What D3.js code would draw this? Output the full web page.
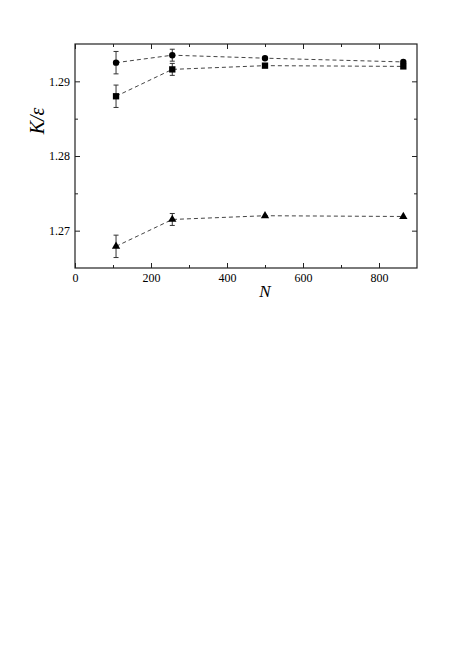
<!DOCTYPE html>
<html>
<head>
<meta charset="utf-8">
<script src="https://cdn.jsdelivr.net/npm/d3@7"></script>
<style>
  body { margin: 0; background: #fff; }
  svg { display: block; }
  text { font-family: "Liberation Serif", "DejaVu Serif", serif; }
</style>
</head>
<body>
<div id="chart"></div>
<script>
// system sizes N
const sizes = [108, 256, 500, 864];

// K/eps for each series (circles, squares, triangles)
const circleVals = [1.2925, 1.2935, 1.2931, 1.2926];
const circleErr = [0.0015, 0.0008, 0, 0];
const squareVals = [1.2880, 1.2916, 1.2921, 1.2920];
const squareErr = [0.0015, 0.0008, 0, 0];
const triangleVals = [1.2679, 1.2715, 1.2720, 1.2719];
const triangleErr = [0.0015, 0.0008, 0, 0];

const xTicks = [0, 200, 400, 600, 800];
const xMinor = [100, 300, 500, 700];
const yTicks = [1.27, 1.28, 1.29];
const yMinor = [1.275, 1.285];

const width = 469, height = 671;
const margin = {left: 75, right: 52, top: 44, bottom: 403};

const svg = d3.select("#chart").append("svg")
  .attr("width", width)
  .attr("height", height);

const x = d3.scaleLinear().domain([0, 900]).range([margin.left, width - margin.right]);
const y = d3.scaleLinear().domain([1.265, 1.295]).range([height - margin.bottom, margin.top]);

const series = [
  {vals: circleVals, err: circleErr, sym: d3.symbolCircle, size: 32},
  {vals: squareVals, err: squareErr, sym: d3.symbolSquare, size: 40},
  {vals: triangleVals, err: triangleErr, sym: d3.symbolTriangle, size: 30}
];

// lines
const line = d3.line().x(d => x(d[0])).y(d => y(d[1]));
series.forEach(s => {
  svg.append("path")
    .attr("d", line(sizes.map((n, i) => [n, s.vals[i]])))
    .attr("fill", "none")
    .attr("stroke", "#444")
    .attr("stroke-width", 1)
    .attr("stroke-dasharray", "4,3");
});

// error bars
series.forEach(s => {
  const g = svg.append("g").attr("stroke", "#333").attr("stroke-width", 1);
  sizes.forEach((n, i) => {
    if (!s.err[i]) return;
    const cx = x(n), lo = y(s.vals[i] - s.err[i]), hi = y(s.vals[i] + s.err[i]);
    g.append("line").attr("x1", cx).attr("x2", cx).attr("y1", lo).attr("y2", hi);
    g.append("line").attr("x1", cx - 2.5).attr("x2", cx + 2.5).attr("y1", lo).attr("y2", lo);
    g.append("line").attr("x1", cx - 2.5).attr("x2", cx + 2.5).attr("y1", hi).attr("y2", hi);
  });
});

// markers
series.forEach(s => {
  svg.append("g").selectAll("path")
    .data(sizes.map((n, i) => [n, s.vals[i]]))
    .join("path")
    .attr("transform", d => `translate(${x(d[0])},${y(d[1])})`)
    .attr("d", d3.symbol().type(s.sym).size(s.size))
    .attr("fill", "#000");
});

// axes with inward ticks
const yBot = y.range()[0], yTop = y.range()[1];
const xLeft = x.range()[0], xRight = x.range()[1];

svg.append("g").attr("transform", `translate(0,${yBot})`)
  .call(d3.axisBottom(x).tickValues(xTicks).tickSize(-5).tickPadding(5).tickSizeOuter(0))
  .call(g => g.select(".domain").remove());
svg.append("g").attr("transform", `translate(0,${yBot})`)
  .call(d3.axisBottom(x).tickValues(xMinor).tickSize(-3).tickFormat("").tickSizeOuter(0))
  .call(g => g.select(".domain").remove());
svg.append("g").attr("transform", `translate(0,${yTop})`)
  .call(d3.axisTop(x).tickValues(xTicks).tickSize(-5).tickFormat("").tickSizeOuter(0))
  .call(g => g.select(".domain").remove());
svg.append("g").attr("transform", `translate(0,${yTop})`)
  .call(d3.axisTop(x).tickValues(xMinor).tickSize(-3).tickFormat("").tickSizeOuter(0))
  .call(g => g.select(".domain").remove());

svg.append("g").attr("transform", `translate(${xLeft},0)`)
  .call(d3.axisLeft(y).tickValues(yTicks).tickSize(-5).tickPadding(5).tickFormat(d3.format(".2f")).tickSizeOuter(0))
  .call(g => g.select(".domain").remove());
svg.append("g").attr("transform", `translate(${xLeft},0)`)
  .call(d3.axisLeft(y).tickValues(yMinor).tickSize(-3).tickFormat("").tickSizeOuter(0))
  .call(g => g.select(".domain").remove());
svg.append("g").attr("transform", `translate(${xRight},0)`)
  .call(d3.axisRight(y).tickValues(yTicks).tickSize(-5).tickFormat("").tickSizeOuter(0))
  .call(g => g.select(".domain").remove());
svg.append("g").attr("transform", `translate(${xRight},0)`)
  .call(d3.axisRight(y).tickValues(yMinor).tickSize(-3).tickFormat("").tickSizeOuter(0))
  .call(g => g.select(".domain").remove());

svg.selectAll(".tick text")
  .attr("font-size", 12)
  .attr("fill", "#000");
svg.selectAll(".tick line").attr("stroke", "#222");

// frame
svg.append("rect")
  .attr("x", xLeft).attr("y", yTop)
  .attr("width", xRight - xLeft).attr("height", yBot - yTop)
  .attr("fill", "none").attr("stroke", "#222").attr("stroke-width", 1.2);

// axis titles
svg.append("text")
  .attr("x", x(500)).attr("y", yBot + 29)
  .attr("text-anchor", "middle")
  .attr("font-size", 17).attr("font-style", "italic")
  .text("N");

svg.append("text")
  .attr("transform", `translate(${xLeft - 31},${y(1.2847)}) rotate(-90)`)
  .attr("text-anchor", "middle")
  .attr("font-size", 20).attr("font-style", "italic")
  .text("K/ε");
</script>
</body>
</html>
